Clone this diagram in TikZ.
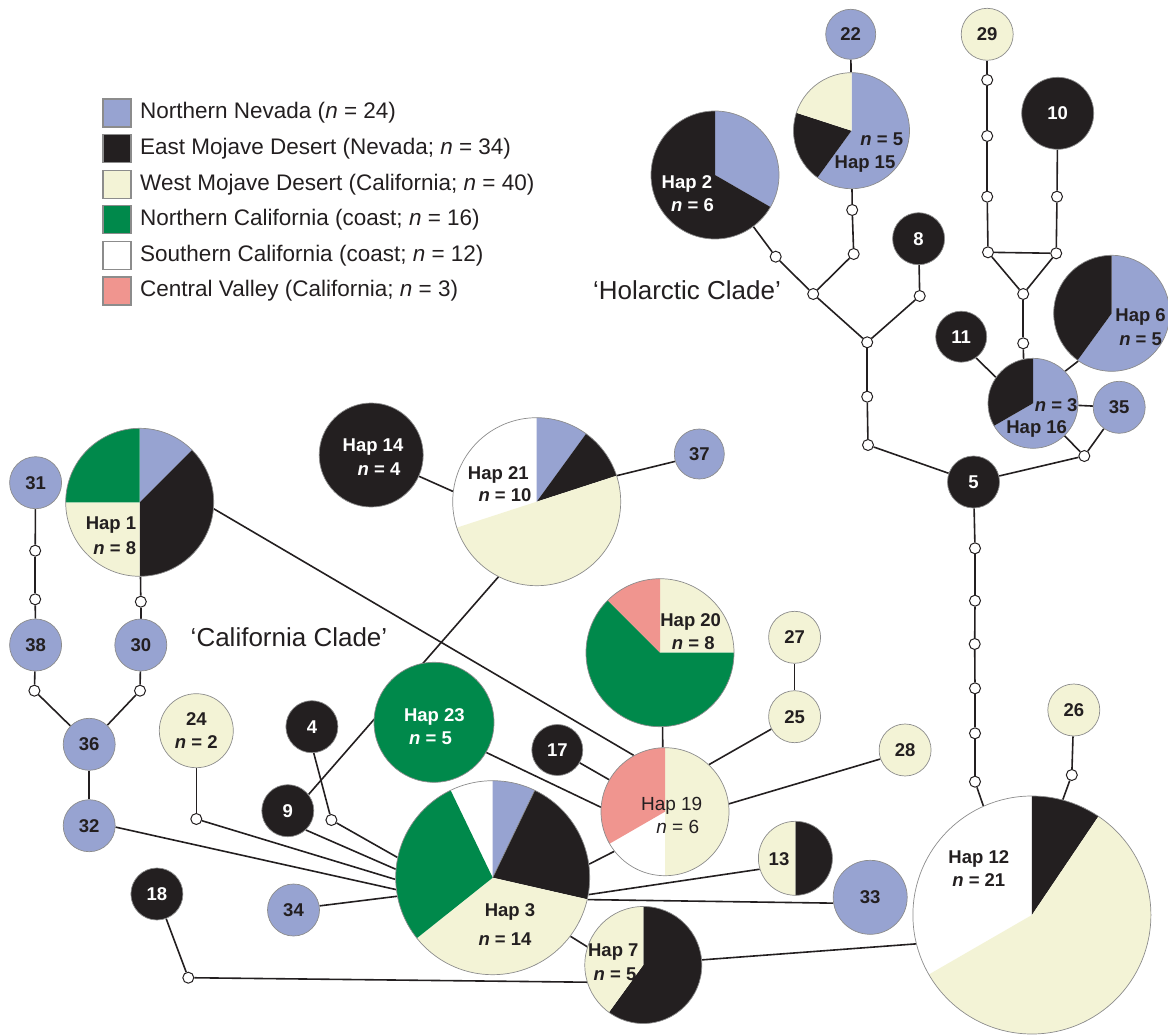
\documentclass[tikz,border=0pt]{standalone}
\usepackage{fontspec}
\setmainfont{Liberation Sans}
\usetikzlibrary{backgrounds}
\definecolor{nnv}{RGB}{151,163,209}
\definecolor{emd}{RGB}{35,31,32}
\definecolor{wmd}{RGB}{243,243,214}
\definecolor{nca}{RGB}{0,137,75}
\definecolor{cvl}{RGB}{240,149,143}
\definecolor{rim}{RGB}{140,140,140}
\newcommand\slc[3]{\fill[#1] (path picture bounding box.center) -- ++(#2:400pt) arc[start angle=#2, end angle=#3, radius=400pt] -- cycle;}
\tikzset{
 hap/.style={circle, draw=rim, line width=0.7pt, inner sep=0pt, minimum size={2*#1pt}, font=\bfseries\fontsize{18.5}{22}\selectfont},
 blk/.style={hap=#1, fill=emd, text=white},
 blu/.style={hap=#1, fill=nnv, text=emd},
 crm/.style={hap=#1, fill=wmd, text=emd, align=center},
 grn/.style={hap=#1, fill=nca},
 piec/.style={hap=#1, fill=white},
 mut/.style={circle, draw=emd, fill=white, line width=1pt, inner sep=0pt, minimum size=11pt},
 link/.style={draw=emd, line width=1.6pt},
 lab/.style={inner sep=0pt, anchor=base, yshift=-6.7pt, text=emd, font=\bfseries\fontsize{18.5}{22}\selectfont},
 labw/.style={lab, text=white},
 labr/.style={lab, font=\fontsize{19}{22}\selectfont},
 clade/.style={anchor=base, inner sep=0pt, font=\fontsize{26}{30}\selectfont, text=emd},
 swatch/.style={rectangle, draw=rim, line width=1.2pt, minimum size=28pt, inner sep=0pt},
 keytext/.style={anchor=west, inner sep=0pt, font=\fontsize{22.5}{26}\selectfont, text=emd},
}
\begin{document}
\begin{tikzpicture}[x=1pt,y=1pt]
\useasboundingbox (0,0) rectangle (1168,-1035);

% ---------- legend ----------
\node[swatch, fill=nnv] (ks1) at (117,-113) {};
\node[swatch, fill=emd] (ks2) at (117,-148.6) {};
\node[swatch, fill=wmd] (ks3) at (117,-184.2) {};
\node[swatch, fill=nca] (ks4) at (117,-219.8) {};
\node[swatch, fill=white] (ks5) at (117,-255.4) {};
\node[swatch, fill=cvl] (ks6) at (117,-291) {};
\node[keytext] (kt1) at (140,-113) {Northern Nevada (\textit{n} = 24)};
\node[keytext] (kt2) at (140,-148.6) {East Mojave Desert (Nevada; \textit{n} = 34)};
\node[keytext] (kt3) at (140,-184.2) {West Mojave Desert (California; \textit{n} = 40)};
\node[keytext] (kt4) at (140,-219.8) {Northern California (coast; \textit{n} = 16)};
\node[keytext] (kt5) at (140,-255.4) {Southern California (coast; \textit{n} = 12)};
\node[keytext] (kt6) at (140,-291) {Central Valley (California; \textit{n} = 3)};

\node[clade] (hol) at (687,-299) {‘Holarctic Clade’};
\node[clade] (cal) at (289,-646) {‘California Clade’};

% ---------- Holarctic clade ----------
\node[blu=25] (n22) at (850.7,-34.3) {22};
\node[piec=58, path picture={\slc{nnv}{90}{-126}\slc{emd}{234}{162}\slc{wmd}{162}{90}}] (h15) at (851.5,-130.7) {};
\node[lab] (h15a) at (881.8,-139.3) {\textit{n} = 5};
\node[lab] (h15b) at (865,-162) {Hap 15};
\node[piec=64, path picture={\slc{nnv}{90}{-30}\slc{emd}{-30}{-270}}] (h2) at (715,-175) {};
\node[labw] (h2a) at (686.9,-181.7) {Hap 2};
\node[labw] (h2b) at (692.5,-205) {\textit{n} = 6};
\node[blk=26] (n8) at (918.6,-238.7) {8};
\node[crm=26] (n29) at (987.2,-34.3) {29};
\node[blk=36] (n10) at (1057.7,-113.3) {10};
\node[mut] (c1) at (987.2,-80) {};
\node[mut] (c2) at (987.2,-136) {};
\node[mut] (c3) at (987.2,-196.7) {};
\node[mut] (c4) at (988,-252.3) {};
\node[mut] (c5) at (1057,-196.7) {};
\node[mut] (c6) at (1056.2,-253.3) {};
\node[mut] (t1) at (1023.2,-294) {};
\node[mut] (t2) at (1023.2,-343.3) {};
\node[mut] (m1) at (852.2,-210) {};
\node[mut] (m2) at (853.7,-254) {};
\node[mut] (m3) at (775.7,-256.7) {};
\node[mut] (j1) at (813.2,-294) {};
\node[mut] (m4) at (919.7,-296) {};
\node[mut] (j2) at (867.2,-342.3) {};
\node[mut] (m5) at (867.2,-396.7) {};
\node[mut] (m6) at (868,-445) {};
\node[blk=26] (n5) at (973.5,-482) {5};
\node[piec=45, path picture={\slc{nnv}{90}{-150}\slc{emd}{210}{90}}] (h16) at (1033,-403.3) {};
\node[lab] (h16a) at (1056.2,-405) {\textit{n} = 3};
\node[lab] (h16b) at (1036.7,-426.7) {Hap 16};
\node[blk=25.5] (n11) at (961.2,-336.7) {11};
\node[piec=58, path picture={\slc{nnv}{90}{-126}\slc{emd}{234}{90}}] (h6) at (1111.7,-313.3) {};
\node[lab] (h6a) at (1140.6,-315) {Hap 6};
\node[lab] (h6b) at (1140.6,-338.3) {\textit{n} = 5};
\node[blu=26] (n35) at (1119.2,-407.3) {35};
\node[mut] (j3) at (1084.3,-456) {};
\node[mut] (d1) at (975,-548.3) {};
\node[mut] (d2) at (975,-600.7) {};
\node[mut] (d3) at (974.7,-644) {};
\node[mut] (d4) at (975,-688.3) {};
\node[mut] (d5) at (975,-733.3) {};
\node[mut] (d6) at (975,-781.7) {};
\node[piec=119, path picture={\slc{emd}{90}{56}\slc{wmd}{56}{-150}}] (h12) at (1031.9,-915) {};
\node[lab] (h12a) at (978.8,-856.7) {Hap 12};
\node[lab] (h12b) at (978.8,-880) {\textit{n} = 21};
\node[crm=26] (n26) at (1073.8,-710) {26};
\node[mut] (e1) at (1071.8,-775) {};

% ---------- California clade ----------
\node[blu=26] (n31) at (35.6,-482.7) {31};
\node[mut] (k1) at (35.2,-550.7) {};
\node[mut] (k2) at (35.2,-599.3) {};
\node[blu=26] (n38) at (35.6,-645) {38};
\node[piec=74, path picture={\slc{nnv}{90}{45}\slc{emd}{45}{-90}\slc{wmd}{-90}{-180}\slc{nca}{180}{90}}] (h1) at (139.7,-502.3) {};
\node[lab] (h1a) at (111,-522.7) {Hap 1};
\node[lab] (h1b) at (114.8,-547.3) {\textit{n} = 8};
\node[mut] (k3) at (140.8,-601.7) {};
\node[blu=26] (n30) at (140.8,-645) {30};
\node[mut] (k4) at (34.4,-690.7) {};
\node[mut] (k5) at (140,-690.7) {};
\node[blu=26] (n36) at (89.2,-744.3) {36};
\node[blu=26] (n32) at (89.2,-825.7) {32};
\node[blk=52] (h14) at (371.2,-455) {};
\node[labw] (h14a) at (373,-445) {Hap 14};
\node[labw] (h14b) at (379,-468.3) {\textit{n} = 4};
\node[piec=84, path picture={\slc{nnv}{90}{54}\slc{emd}{54}{18}\slc{wmd}{18}{-162}}] (h21) at (536.7,-501.7) {};
\node[lab] (h21a) at (498.3,-472.7) {Hap 21};
\node[lab] (h21b) at (505,-495) {\textit{n} = 10};
\node[blu=25] (n37) at (699.3,-454) {37};
\node[piec=74, path picture={\slc{wmd}{90}{0}\slc{nca}{0}{-225}\slc{cvl}{135}{90}}] (h20) at (660,-652.7) {};
\node[lab] (h20a) at (690.7,-619.3) {Hap 20};
\node[lab] (h20b) at (693.3,-642.7) {\textit{n} = 8};
\node[grn=60] (h23) at (434,-722.3) {};
\node[labw] (h23a) at (434.4,-715) {Hap 23};
\node[labw] (h23b) at (430.5,-737.7) {\textit{n} = 5};
\node[blk=25.5] (n17) at (557.3,-750) {17};
\node[piec=64, path picture={\slc{wmd}{90}{-90}\slc{cvl}{210}{90}}] (h19) at (665,-811.7) {};
\node[labr] (h19a) at (671.7,-803.3) {Hap 19};
\node[labr] (h19b) at (677.7,-826.7) {\textit{n} = 6};
\node[piec=97, path picture={\slc{nnv}{90}{64.29}\slc{emd}{64.29}{-12.86}\slc{wmd}{-12.86}{-141.43}\slc{nca}{-141.43}{-244.29}\draw[rim, line width=0.6pt] (path picture bounding box.center) -- ++(64.29:200pt);}] (h3) at (492.7,-877.7) {};
\node[lab] (h3a) at (510,-909.3) {Hap 3};
\node[lab] (h3b) at (505,-938.3) {\textit{n} = 14};
\node[piec=58.5, path picture={\slc{emd}{90}{-126}\slc{wmd}{234}{90}}] (h7) at (643.3,-965) {};
\node[lab] (h7a) at (613.3,-950) {Hap 7};
\node[lab] (h7b) at (615,-974) {\textit{n} = 5};
\node[piec=37, path picture={\slc{emd}{90}{-90}\slc{wmd}{90}{270}}] (n13) at (795.4,-858.3) {};
\node[lab] (n13a) at (779,-858.3) {13};
\node[blu=37] (n33) at (870.2,-897.3) {33};
\node[crm=26] (n27) at (794.6,-637.3) {27};
\node[crm=26] (n25) at (794.6,-716.7) {25};
\node[crm=26] (n28) at (905.1,-750) {28};
\node[crm=37, font=\bfseries\fontsize{18.5}{23.3}\selectfont] (n24) at (196.3,-730.7) {24\\\textit{n} = 2};
\node[mut] (g1) at (196.3,-819) {};
\node[blk=26] (n4) at (311.9,-726.7) {4};
\node[mut] (g2) at (331.4,-820) {};
\node[blk=26] (n9) at (287.8,-810.7) {9};
\node[blk=26] (n18) at (156.9,-894) {18};
\node[mut] (f1) at (188.3,-977.7) {};
\node[blu=26] (n34) at (293.5,-910) {34};

% ---------- connectors ----------
\begin{scope}[on background layer]
\foreach \a/\b in {n22/h15, h15/m1, m1/m2, m2/j1, h2/m3, m3/j1, j1/j2, n8/m4, m4/j2, j2/m5, m5/m6, m6/n5,
  n29/c1, c1/c2, c2/c3, c3/c4, n10/c5, c5/c6, c4/c6, c4/t1, c6/t1, t1/t2, t2/h16.102,
  n11.-55/h16.145, h6.235/h16.45, h16/n35, h16/j3, n35/j3, j3/n5,
  n5/d1, d1/d2, d2/d3, d3/d4, d4/d5, d5/d6, d6/h12.114, n26/e1, e1/h12.75,
  n31/k1, k1/k2, k2/n38, h1/k3, k3/n30, n38/k4, k4/n36, n30/k5, k5/n36, n36/n32,
  n32.-3/h3.187, n24/g1, g1/h3.181, n9.-47/h3.175, n4.-86/g2, g2/h3.168, n34.9/h3.191,
  h21.243/n9.38, h14.-24/h21.173, h21.18/n37.197, h1.-5/h19.119, h23.-30/h19.176, n17/h19,
  h20.-88/h19.92, h19.47/n25.208, n27/n25, h19.7/n28.200, h3.8/h19.218, h3.-10/n13.197,
  h3.-13/n33.189, h3.-37/h7.162, h7.5/h12.194, n18/f1, f1/h7.197}
  \draw[link] (\a) -- (\b);
\end{scope}
\end{tikzpicture}
\end{document}
